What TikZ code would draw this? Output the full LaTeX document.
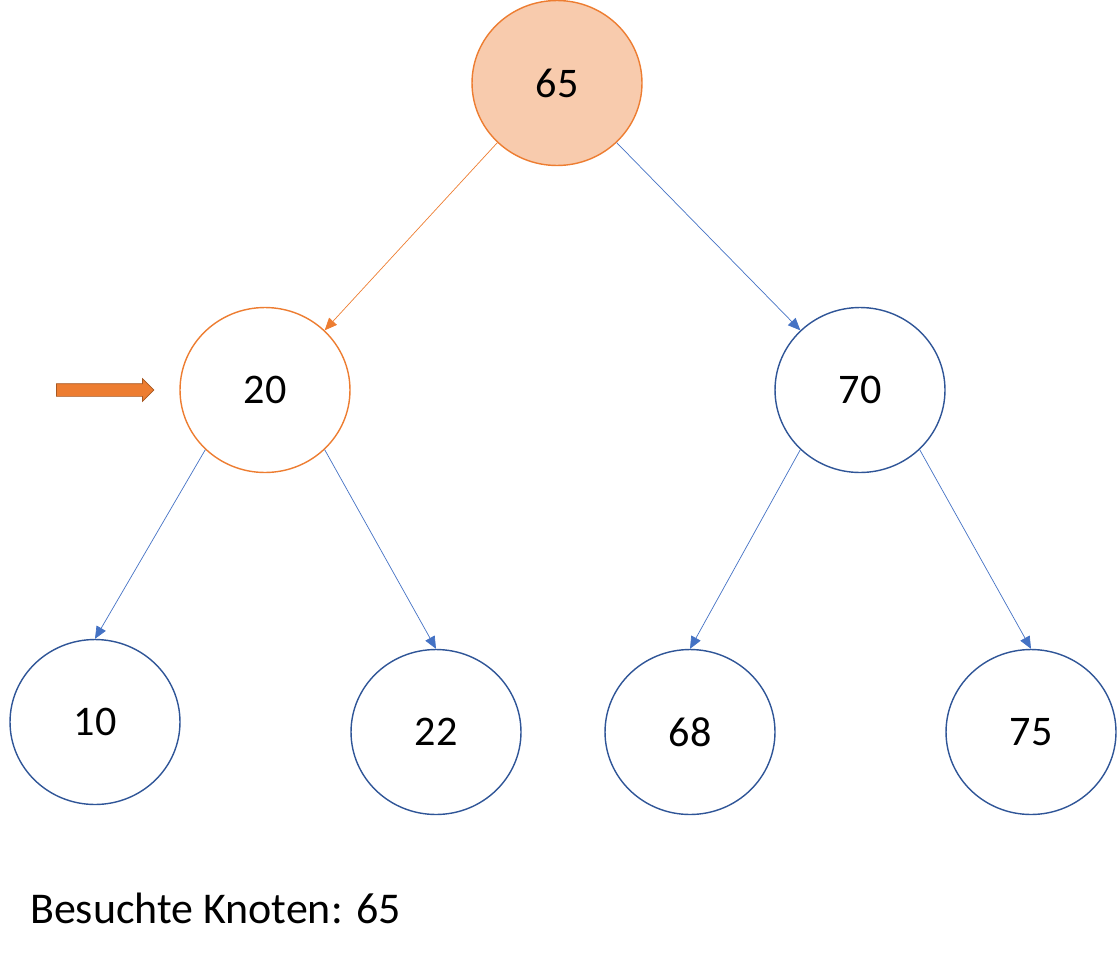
\documentclass[tikz,border=0pt]{standalone}
\usepackage{fontspec}
\setmainfont{Carlito}
\usetikzlibrary{positioning,shapes.geometric,shapes.arrows,arrows.meta}
\definecolor{nodeblue}{HTML}{2F5597}
\definecolor{edgeblue}{HTML}{4472C4}
\definecolor{hiorange}{HTML}{ED7D31}
\definecolor{hifill}{HTML}{F8CBAD}
\tikzset{
  knot/.style={draw=nodeblue,thick,ellipse,minimum width=3.4cm,minimum height=3.3cm,font=\fontsize{24}{28}\selectfont},
  seen/.style={knot,draw=hiorange,fill=hifill},
  active/.style={knot,draw=hiorange},
  link/.style={-{Triangle[length=7pt,width=6pt]},edgeblue,thin},
}
\begin{document}
\begin{tikzpicture}[x=0.02cm,y=-0.02cm]
	\useasboundingbox (0,0) rectangle (1118,960);
	\node[seen] (n65) at (557,83) {65};
	\node[active] (n20) at (265,390) {20};
	\node[knot] (n70) at (860,390) {70};
	\node[knot] (n10) at (95,722) {10};
	\node[knot] (n22) at (436,732) {22};
	\node[knot] (n68) at (690,732) {68};
	\node[knot] (n75) at (1031,732) {75};
	\node[single arrow,draw=hiorange!70!black,fill=hiorange,inner sep=0.12cm,minimum width=0.45cm,single arrow head extend=0.1cm,minimum height=1.95cm] (pointer) at (102,390) {};
	\node[anchor=west,font=\fontsize{25}{30}\selectfont] (seenlist) at (24,908) {Besuchte Knoten: 65};
	
	\draw[link,hiorange] (n65.225) -- (n20.45);
	\draw[link] (n65.315) -- (n70.135);
	\draw[link] (n20.225) -- (n10.north);
	\draw[link] (n20.315) -- (n22.north);
	\draw[link] (n70.225) -- (n68.north);
	\draw[link] (n70.315) -- (n75.north);
\end{tikzpicture}
\end{document}
